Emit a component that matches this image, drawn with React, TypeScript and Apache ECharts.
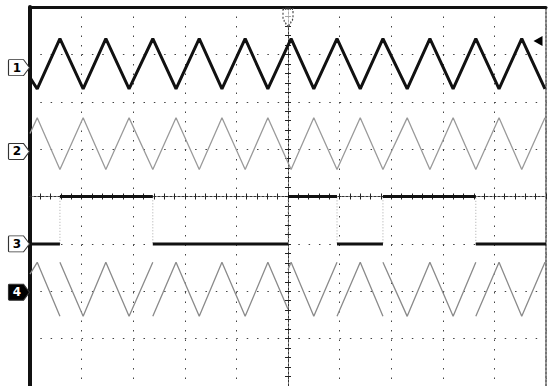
import React, { useEffect, useRef } from "react";
import * as echarts from "echarts";

// Time (divisions from screen centre) of the triangle-wave vertices
const triX = [-5, -4.86, -4.42, -3.97, -3.53, -3.08, -2.62, -2.17, -1.72, -1.28, -0.83, -0.39, 0.06, 0.5, 0.95, 1.4, 1.84, 2.31, 2.75, 3.2, 3.64, 4.09, 4.53, 4.98];
// Channel 1 (thick black triangle), divisions
const ch1Y = [2.51, 2.27, 3.33, 2.27, 3.33, 2.27, 3.33, 2.27, 3.33, 2.27, 3.33, 2.27, 3.33, 2.27, 3.33, 2.27, 3.33, 2.27, 3.33, 2.27, 3.33, 2.27, 3.33, 2.27];
// Channel 2 (grey, inverted triangle)
const ch2Y = [1.33, 1.66, 0.57, 1.66, 0.57, 1.66, 0.57, 1.66, 0.57, 1.66, 0.57, 1.66, 0.57, 1.66, 0.57, 1.66, 0.57, 1.66, 0.57, 1.66, 0.57, 1.66, 0.57, 1.66];
// Channel 3 (digital): edge times and the level of each segment
const ch3EdgeX = [-4.42, -2.62, 0, 0.95, 1.84, 3.64];
const ch3Levels = [-1, 0, -1, 0, -1, 0, -1];
// Channel 4 (modulated triangle) segments
const ch4Segments: number[][][] = [
  [[-5, -1.64], [-4.86, -1.39], [-4.42, -2.53]],
  [[-4.42, -1.39], [-3.97, -2.53], [-3.53, -1.39], [-3.08, -2.53], [-2.62, -1.39]],
  [[-2.62, -2.53], [-2.17, -1.39], [-1.72, -2.53], [-1.28, -1.39], [-0.83, -2.53], [-0.39, -1.39], [0, -2.38]],
  [[0, -1.54], [0.06, -1.39], [0.5, -2.53], [0.95, -1.39]],
  [[0.95, -2.53], [1.4, -1.39], [1.84, -2.53]],
  [[1.84, -1.39], [2.31, -2.53], [2.75, -1.39], [3.2, -2.53], [3.64, -1.39]],
  [[3.64, -2.53], [4.09, -1.39], [4.53, -2.53], [4.98, -1.39], [5, -1.42]],
];
// Channel marker labels and ground levels
const chLabels = ["1", "2", "3", "4"];
const chLevels = [2.72, 0.95, -1, -2.02];
const trigLevel = 3.28;
const X_MIN = -5, X_MAX = 5, Y_MIN = -4, Y_MAX = 4;

const TAG = "path://M1,0 L15,0 L21,8 L15,16 L1,16 Q0,16 0,15 L0,1 Q0,0 1,0 Z";

function tag(i: number) {
  const filled = i === 3;
  return {
    silent: true,
    animation: false,
    data: [
      {
        coord: [X_MIN, chLevels[i]],
        symbol: TAG,
        symbolSize: [21, 16],
        symbolOffset: [-11, 0],
        itemStyle: { color: filled ? "#000" : "#fff", borderColor: "#333", borderWidth: 1 },
        label: {
          show: true,
          position: "inside",
          formatter: chLabels[i],
          color: filled ? "#fff" : "#000",
          fontSize: 12,
          fontWeight: "bold",
          fontFamily: "DejaVu Sans",
          offset: [-2, 0],
        },
      },
    ],
  };
}

export default function App() {
  const ref = useRef<HTMLDivElement>(null);
  useEffect(() => {
    const chart = echarts.init(ref.current!, null, { renderer: "svg" });

    const ch1 = triX.map((x, i) => [x, ch1Y[i]]);
    const ch2 = triX.map((x, i) => [x, ch2Y[i]]);
    const bounds = [X_MIN, ...ch3EdgeX, X_MAX];
    const ch3Step: any[] = [];
    const ch3Flat: any[] = [];
    ch3Levels.forEach((lv, i) => {
      ch3Step.push([bounds[i], lv], [bounds[i + 1], lv]);
      ch3Flat.push([bounds[i], lv], [bounds[i + 1], lv], ["-", "-"]);
    });
    const ch4: any[] = [];
    ch4Segments.forEach((seg) => {
      seg.forEach((p) => ch4.push(p));
      ch4.push(["-", "-"]);
    });

    const hidden = { axisLabel: { show: false }, splitLine: { show: false } };
    const centreX = (inside: boolean) => ({
      type: "value", min: X_MIN, max: X_MAX, interval: 1, position: "bottom",
      axisLine: { show: true, onZero: true, onZeroAxisIndex: 0, lineStyle: { color: "#333", width: 1, type: [2, 2] } },
      axisTick: { show: true, inside, length: 3, lineStyle: { color: "#222" } },
      minorTick: { show: true, splitNumber: 5, length: 3, lineStyle: { color: "#222" } },
      ...hidden,
    });
    const centreY = (inside: boolean) => ({
      type: "value", min: Y_MIN, max: Y_MAX, interval: 1, position: "left",
      axisLine: { show: true, onZero: true, onZeroAxisIndex: 0, lineStyle: { color: "#333", width: 1, type: [2, 2] } },
      axisTick: { show: true, inside, length: 3, lineStyle: { color: "#222" } },
      minorTick: { show: true, splitNumber: 5, length: 3, lineStyle: { color: "#222" } },
      ...hidden,
    });

    chart.setOption({
      animation: false,
      backgroundColor: "#fff",
      grid: { left: 30, right: 7, top: 7, bottom: -1 },
      xAxis: [
        {
          type: "value", min: X_MIN, max: X_MAX, interval: 1, position: "bottom",
          axisLine: { show: false, onZero: false }, axisTick: { show: false }, axisLabel: { show: false },
          splitLine: { show: true, lineStyle: { color: "#444", width: 1, type: [1.5, 8] } },
        },
        {
          type: "value", min: X_MIN, max: X_MAX, position: "top",
          axisLine: { show: true, onZero: false, lineStyle: { color: "#111", width: 3 } },
          axisTick: { show: false }, ...hidden,
        },
        centreX(true),
        centreX(false),
      ],
      yAxis: [
        {
          type: "value", min: Y_MIN, max: Y_MAX, interval: 1, position: "left",
          axisLine: { show: true, onZero: false, lineStyle: { color: "#111", width: 4 } },
          axisTick: { show: false }, axisLabel: { show: false },
          splitLine: { show: true, lineStyle: { color: "#444", width: 1, type: [1.5, 8.82] } },
        },
        {
          type: "value", min: Y_MIN, max: Y_MAX, position: "right",
          axisLine: { show: true, onZero: false, lineStyle: { color: "#777", width: 2, type: [2, 2] } },
          axisTick: { show: false }, ...hidden,
        },
        centreY(true),
        centreY(false),
      ],
      series: [
        {
          type: "line", data: ch2, symbol: "none", silent: true,
          lineStyle: { color: "#9a9a9a", width: 1.3 }, markPoint: tag(1),
        },
        {
          type: "line", data: ch3Step, symbol: "none", silent: true,
          lineStyle: { color: "#aaa", width: 1, type: [1, 2] },
        },
        {
          type: "line", data: ch3Flat, symbol: "none", silent: true, connectNulls: false,
          lineStyle: { color: "#111", width: 3 }, markPoint: tag(2),
        },
        {
          type: "line", data: ch4, symbol: "none", silent: true, connectNulls: false,
          lineStyle: { color: "#8a8a8a", width: 1.3 }, markPoint: tag(3),
        },
        {
          type: "line", data: ch1, symbol: "none", silent: true,
          lineStyle: { color: "#111", width: 3 },
          markPoint: {
            silent: true,
            data: [
              tag(0).data[0],
              {
                coord: [X_MAX, trigLevel], symbol: "triangle", symbolRotate: 90,
                symbolSize: [10, 9], symbolOffset: [-8, 0], itemStyle: { color: "#000" }, label: { show: false },
              },
              {
                coord: [0, Y_MAX], symbol: "path://M0,0 L10,0 L10,10 L5,18 L0,10 Z",
                symbolSize: [10, 18], symbolOffset: [0, 11],
                itemStyle: { color: "rgba(255,255,255,0.6)", borderColor: "#444", borderWidth: 1.5, borderType: "dotted" },
                label: { show: false },
              },
            ],
          },
        },
      ],
    });
    return () => chart.dispose();
  }, []);
  return (
    <div
      ref={ref}
      style={{ position: "fixed", left: 0, top: 0, width: 553, height: 386, background: "#fff" }}
    />
  );
}
